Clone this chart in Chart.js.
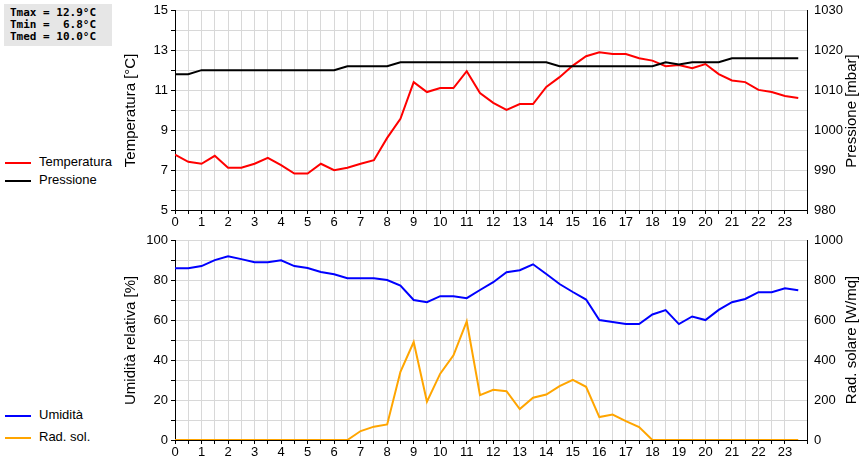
<!DOCTYPE html>
<html>
<head>
<meta charset="utf-8">
<script src="https://cdn.jsdelivr.net/npm/chart.js@4"></script>
<style>
  body { margin: 0; background: #fff; font-family: "Liberation Sans", Arial, sans-serif; }
  #wrap { position: relative; width: 860px; height: 460px; }
  .cv { position: absolute; left: 120px; width: 740px; height: 230px; }
  #stats { position: absolute; left: 4px; top: 4px; width: 102px; padding: 3px 0 3px 6px; background: #e6e6e6;
           font: bold 11px "DejaVu Sans Mono", monospace; line-height: 12px; white-space: pre; }
  .leg { position: absolute; left: 5px; font-size: 13px; }
  .leg span { display: inline-block; width: 26px; height: 2px; vertical-align: middle; margin-right: 8px; }
  .rtitle { position: absolute; left: 850px; width: 0; height: 0; }
  .rtitle div { position: absolute; transform: translate(-50%, -50%) rotate(-90deg); white-space: nowrap; font-size: 15px; }
</style>
</head>
<body>
<div id="wrap">
  <div id="stats">Tmax = 12.9°C
Tmin =  6.8°C
Tmed = 10.0°C</div>
  <div class="leg" style="top:154px"><span style="background:#f00"></span>Temperatura</div>
  <div class="leg" style="top:172px"><span style="background:#000"></span>Pressione</div>
  <div class="leg" style="top:407px"><span style="background:#00f"></span>Umidità</div>
  <div class="leg" style="top:429px"><span style="background:#ffa500"></span>Rad. sol.</div>
  <div class="cv" style="top:0"><canvas id="top"></canvas></div>
  <div class="cv" style="top:230px"><canvas id="bottom"></canvas></div>
  <div class="rtitle" style="top:111px"><div>Pressione [mbar]</div></div>
  <div class="rtitle" style="top:340px"><div>Rad. solare [W/mq]</div></div>
</div>
<script>
// half-hour samples 0 .. 23.5
const hours = Array.from({ length: 48 }, (_, i) => i / 2);

const temperatura = [7.78, 7.42, 7.32, 7.72, 7.12, 7.12, 7.32, 7.62, 7.25, 6.83, 6.83, 7.32,
  7.0, 7.12, 7.32, 7.5, 8.62, 9.58, 11.42, 10.92, 11.12, 11.12, 11.97, 10.87,
  10.38, 10.03, 10.32, 10.32, 11.18, 11.67, 12.25, 12.72, 12.92, 12.83, 12.83, 12.62,
  12.5, 12.22, 12.28, 12.12, 12.33, 11.82, 11.5, 11.42, 11.03, 10.92, 10.72, 10.62];

const pressione = [1014.1, 1014.1, 1015.1, 1015.1, 1015.1, 1015.1, 1015.1, 1015.1, 1015.1, 1015.1, 1015.1, 1015.1,
  1015.1, 1016.1, 1016.1, 1016.1, 1016.1, 1017.1, 1017.1, 1017.1, 1017.1, 1017.1, 1017.1, 1017.1,
  1017.1, 1017.1, 1017.1, 1017.1, 1017.1, 1016.1, 1016.1, 1016.1, 1016.1, 1016.1, 1016.1, 1016.1,
  1016.1, 1017.1, 1016.5, 1017.1, 1017.1, 1017.1, 1018.1, 1018.1, 1018.1, 1018.1, 1018.1, 1018.1];

const umidita = [86.2, 86.2, 87.3, 90.3, 92.2, 90.8, 89.2, 89.2, 90.2, 87.3, 86.3, 84.3,
  83.2, 81.2, 81.2, 81.2, 80.3, 77.5, 70.3, 69.2, 72.2, 72.2, 71.2, 75.3,
  79.2, 84.2, 85.2, 88.2, 83.3, 78.3, 74.3, 70.5, 60.2, 59.2, 58.2, 58.2,
  63.0, 65.2, 58.2, 62.0, 60.2, 65.3, 69.2, 70.8, 74.2, 74.2, 76.2, 75.2];

const radSolare = [0, 0, 0, 0, 0, 0, 0, 0, 0, 0, 0, 0,
  0, 0, 45, 67, 78, 342, 492, 192, 333, 425, 595, 225,
  252, 245, 155, 212, 228, 270, 302, 267, 115, 128, 95, 65,
  0, 0, 0, 0, 0, 0, 0, 0, 0, 0, 0, 0];

const pts = vals => vals.map((v, i) => ({ x: hours[i], y: v }));
const gridColor = '#d8d8d8';
const font = { family: "'Liberation Sans', Arial, sans-serif", size: 13 };

function fixWidth(w) { return axis => { axis.width = w; }; }
function fixHeight(h) { return axis => { axis.height = h; }; }

function xAxis() {
  return {
    type: 'linear', min: 0, max: 23.83,
    border: { color: '#000' },
    grid: { color: gridColor, tickLength: 4, tickColor: '#000' },
    ticks: { stepSize: 0.5, autoSkip: false, maxRotation: 0, color: '#000', font, padding: 1,
      callback: v => Number.isInteger(v) ? v : '' },
    afterFit: fixHeight(20)
  };
}

function makeChart(id, sets, left, right) {
  new Chart(document.getElementById(id), {
    type: 'line',
    data: { datasets: sets },
    options: {
      responsive: true, maintainAspectRatio: false, animation: false,
      layout: { padding: { top: 10 } },
      plugins: { legend: { display: false }, tooltip: { enabled: false } },
      elements: { point: { radius: 0 }, line: { borderWidth: 2, tension: 0 } },
      scales: {
        x: xAxis(),
        y: Object.assign({
          position: 'left', border: { color: '#000' },
          grid: { color: gridColor, tickLength: 4, tickColor: '#000' },
          afterFit: fixWidth(55)
        }, left),
        y2: Object.assign({
          position: 'right', border: { color: '#000' },
          grid: { display: false, tickLength: 4, tickColor: '#000' },
          afterFit: fixWidth(53)
        }, right)
      }
    }
  });
}

makeChart('top', [
  { data: pts(pressione), borderColor: '#000', yAxisID: 'y2' },
  { data: pts(temperatura), borderColor: '#f00', yAxisID: 'y' }
], {
  min: 5, max: 15,
  title: { display: true, text: 'Temperatura [°C]', color: '#000', font: { size: 15 }, padding: 2 },
  ticks: { stepSize: 1, autoSkip: false, color: '#000', font, callback: v => v % 2 === 1 ? v : '' }
}, {
  min: 980, max: 1030,
  ticks: { stepSize: 5, autoSkip: false, color: '#000', font, callback: v => v % 10 === 0 ? v : '' }
});

makeChart('bottom', [
  { data: pts(umidita), borderColor: '#00f', yAxisID: 'y' },
  { data: pts(radSolare), borderColor: '#ffa500', yAxisID: 'y2' }
], {
  min: 0, max: 100,
  title: { display: true, text: 'Umidità relativa [%]', color: '#000', font: { size: 15 }, padding: 2 },
  ticks: { stepSize: 10, autoSkip: false, color: '#000', font, callback: v => v % 20 === 0 ? v : '' }
}, {
  min: 0, max: 1000,
  ticks: { stepSize: 100, autoSkip: false, color: '#000', font, callback: v => v % 200 === 0 ? v : '' }
});
</script>
</body>
</html>
